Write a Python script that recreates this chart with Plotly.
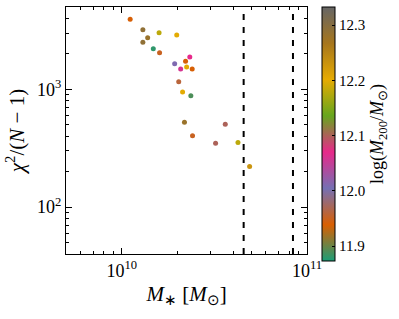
import plotly.graph_objects as go

# data
stellar_mass = [1.11e10, 1.30e10, 1.59e10, 1.98e10, 1.38e10, 1.30e10, 1.48e10, 1.60e10,
                2.33e10, 2.21e10, 1.93e10, 2.24e10, 2.08e10, 2.40e10, 2.03e10, 2.13e10,
                2.36e10, 2.18e10, 3.62e10, 2.41e10, 3.21e10, 4.24e10, 4.90e10]
chi2_red = [3930, 3205, 3020, 2890, 2735, 2515, 2210, 2040,
            1885, 1733, 1645, 1550, 1490, 1490, 1162, 948,
            883, 526, 506, 403, 348, 353, 221]
log_m200 = [11.94, 12.29, 12.18, 12.20, 12.28, 12.29, 11.88, 11.95,
            12.07, 11.94, 12.01, 12.20, 12.06, 11.94, 11.96, 12.20,
            11.89, 12.28, 12.10, 11.95, 12.10, 12.18, 12.23]
vlines = [4.55e10, 8.4e10]
x_range = [5e9, 1e11]
y_range = [40, 5000]
c_range = [11.873, 12.333]

dark2 = ["#1b9e77", "#d95f02", "#7570b3", "#e7298a", "#66a61e", "#e6ab02", "#a6761d", "#666666"]
cscale = [[i / 7, c] for i, c in enumerate(dark2)]

FONT = "Liberation Serif"

fig = go.Figure()
for xv in vlines:
    fig.add_trace(go.Scatter(x=[xv, xv], y=y_range, mode="lines",
                             line=dict(color="black", width=2, dash="6px,7px"),
                             showlegend=False, hoverinfo="skip"))

fig.add_trace(go.Scatter(
    x=stellar_mass, y=chi2_red, mode="markers", hoverinfo="skip",
    marker=dict(size=5, color=log_m200, colorscale=cscale, cmin=c_range[0], cmax=c_range[1],
                line=dict(width=0),
                colorbar=dict(
                    x=1.062, xanchor="left", xref="paper", xpad=0, ypad=0,
                    y=1, yanchor="top", len=254, lenmode="pixels",
                    thickness=13, outlinecolor="black", outlinewidth=1,
                    tickvals=[11.9, 12.0, 12.1, 12.2, 12.3],
                    ticktext=["11.9", "12.0", "12.1", "12.2", "12.3"],
                    ticks="inside", ticklen=3, tickcolor="black",
                    tickfont=dict(family=FONT, size=15, color="black"),
                    title=dict(text="log(<i>M</i><sub>200</sub>/<i>M</i><sub>⊙</sub>)",
                               side="right", font=dict(family=FONT, size=18, color="black")),
                )),
    showlegend=False))

axis_common = dict(showline=True, linecolor="black", linewidth=1, mirror="allticks",
                   ticks="inside", ticklen=6, tickcolor="black", showgrid=False, zeroline=False,
                   tickfont=dict(family=FONT, size=18, color="black"),
                   exponentformat="power", automargin=False)

fig.update_xaxes(type="log", range=[9.69897, 11.0],
                 tickvals=[1e10, 1e11], ticktext=["10<sup>10</sup>", "10<sup>11</sup>"],
                 minor=dict(ticks="inside", ticklen=3, tickcolor="black",
                            tickvals=[6e9, 7e9, 8e9, 9e9, 2e10, 3e10, 4e10, 5e10, 6e10, 7e10, 8e10, 9e10]),
                 title=dict(text="<i>M</i><sub>∗</sub> [<i>M</i><sub>⊙</sub>]",
                            font=dict(family=FONT, size=21, color="black"), standoff=6),
                 ticklabelstandoff=0,
                 **axis_common)
fig.update_yaxes(type="log", range=[1.60206, 3.69897],
                 tickvals=[1e2, 1e3], ticktext=["10<sup>2</sup>", "10<sup>3</sup>"],
                 minor=dict(ticks="inside", ticklen=3, tickcolor="black",
                            tickvals=[50, 60, 70, 80, 90, 200, 300, 400, 500, 600, 700, 800, 900,
                                      2000, 3000, 4000]),
                 title=dict(text="<i>χ</i><sup>2</sup>/(<i>N</i> − 1)",
                            font=dict(family=FONT, size=21, color="black"), standoff=6),
                 **axis_common)

fig.update_layout(width=399, height=319,
                  margin=dict(l=66, r=92, t=7, b=65, autoexpand=False),
                  paper_bgcolor="white", plot_bgcolor="white", hovermode=False)

fig.write_html("out.html", config={"displayModeBar": False, "staticPlot": True},
               post_script="document.body.style.margin='0';document.body.style.padding='0';")
